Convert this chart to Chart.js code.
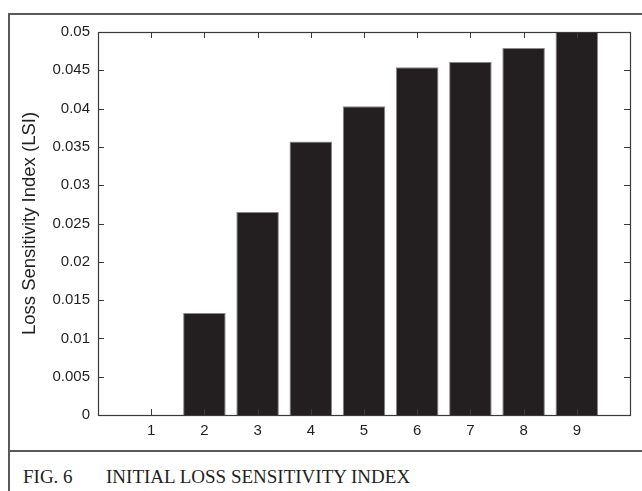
<!DOCTYPE html>
<html>
<head>
<meta charset="utf-8">
<script src="https://cdn.jsdelivr.net/npm/chart.js@4.4.1/dist/chart.umd.min.js"></script>
<style>
	html, body { margin: 0; padding: 0; background: #fff; }
	body { width: 642px; height: 491px; position: relative; overflow: hidden; }
	.frame { position: absolute; left: 8px; top: 13px; right: 0; bottom: 0; border-left: 2px solid #5a5a5a; border-top: 2px solid #5a5a5a; }
	.sep { position: absolute; left: 8px; right: 0; top: 450px; height: 2px; background: #5a5a5a; }
	.chart-box { position: absolute; left: 0; top: 0; width: 642px; height: 451px; }
	.caption { position: absolute; top: 466px; font-family: "Liberation Serif", "Times New Roman", serif; font-size: 19px; color: #231f20; white-space: nowrap; }
</style>
</head>
<body>
<div class="frame"></div>
<div class="sep"></div>
<div class="chart-box"><canvas id="lsiChart"></canvas></div>
<div class="caption" style="left: 23px;">FIG. 6</div>
<div class="caption" style="left: 106px;">INITIAL LOSS SENSITIVITY INDEX</div>
<script>
const busNumbers = [1, 2, 3, 4, 5, 6, 7, 8, 9];
const lsiValues = [0, 0.0133, 0.0265, 0.0357, 0.0403, 0.0454, 0.0461, 0.0479, 0.05];
const yTickValues = [0, 0.005, 0.01, 0.015, 0.02, 0.025, 0.03, 0.035, 0.04, 0.045, 0.05];
const xTickValues = [1, 2, 3, 4, 5, 6, 7, 8, 9];

document.addEventListener('DOMContentLoaded', function() {
	const ctx = document.getElementById('lsiChart');
	if (!ctx || typeof Chart === 'undefined') {
		return;
	}

	const axisColor = '#3a3a3a';
	const tickLen = 6;

	// box around the axes with the tick marks pointing inward, like matlab
	const axesBox = {
		id: 'axesBox',
		afterDatasetsDraw: function(chart) {
			const c = chart.ctx;
			const area = chart.chartArea;
			const xs = chart.scales.x;
			const ys = chart.scales.y;
			c.save();
			c.strokeStyle = axisColor;
			c.lineWidth = 1;
			c.beginPath();
			xTickValues.forEach(function(v) {
				const px = Math.round(xs.getPixelForValue(v)) + 0.5;
				c.moveTo(px, area.bottom);
				c.lineTo(px, area.bottom - tickLen);
				c.moveTo(px, area.top);
				c.lineTo(px, area.top + tickLen);
			});
			yTickValues.forEach(function(v) {
				const py = Math.round(ys.getPixelForValue(v)) + 0.5;
				c.moveTo(area.left, py);
				c.lineTo(area.left + tickLen, py);
				c.moveTo(area.right, py);
				c.lineTo(area.right - tickLen, py);
			});
			c.stroke();
			c.lineWidth = 1.2;
			c.strokeRect(Math.round(area.left) + 0.5, Math.round(area.top) + 0.5,
				Math.round(area.right - area.left), Math.round(area.bottom - area.top));
			c.restore();
		}
	};

	new Chart(ctx.getContext('2d'), {
		type: 'bar',
		data: {
			datasets: [{
				label: 'LSI',
				data: busNumbers.map(function(b, i) {
					return { x: b, y: lsiValues[i] };
				}),
				backgroundColor: '#231f20',
				borderColor: '#8a8a8a',
				borderWidth: 1,
				barPercentage: 0.8,
				categoryPercentage: 1.0
			}]
		},
		options: {
			responsive: true,
			maintainAspectRatio: false,
			animation: false,
			layout: {
				padding: { left: 0, right: 12, top: 32, bottom: 0 }
			},
			scales: {
				x: {
					type: 'linear',
					min: 0,
					max: 10,
					offset: false,
					afterBuildTicks: function(scale) {
						scale.ticks = xTickValues.map(function(v) { return { value: v }; });
					},
					afterFit: function(scale) {
						scale.height = 36;
					},
					grid: { display: false, drawTicks: false, offset: false },
					border: { display: false },
					ticks: {
						padding: 7,
						maxRotation: 0,
						autoSkip: false,
						color: '#231f20',
						font: { family: '"Liberation Sans", Arial, sans-serif', size: 15 },
						callback: function(value) {
							return String(value);
						}
					}
				},
				y: {
					min: 0,
					max: 0.05,
					afterBuildTicks: function(scale) {
						scale.ticks = yTickValues.map(function(v) { return { value: v }; });
					},
					afterFit: function(scale) {
						scale.width = 98;
					},
					grid: { display: false, drawTicks: false },
					border: { display: false },
					ticks: {
						padding: 8,
						autoSkip: false,
						color: '#231f20',
						font: { family: '"Liberation Sans", Arial, sans-serif', size: 15 },
						callback: function(value) {
							return String(parseFloat(value.toFixed(3)));
						}
					},
					title: {
						display: true,
						text: 'Loss Sensitivity Index (LSI)',
						color: '#231f20',
						padding: { top: 19, bottom: 0 },
						font: { family: '"Liberation Sans", Arial, sans-serif', size: 18.5, weight: 'normal' }
					}
				}
			},
			plugins: {
				legend: { display: false },
				tooltip: { enabled: false }
			}
		},
		plugins: [axesBox]
	});
});
</script>
</body>
</html>
